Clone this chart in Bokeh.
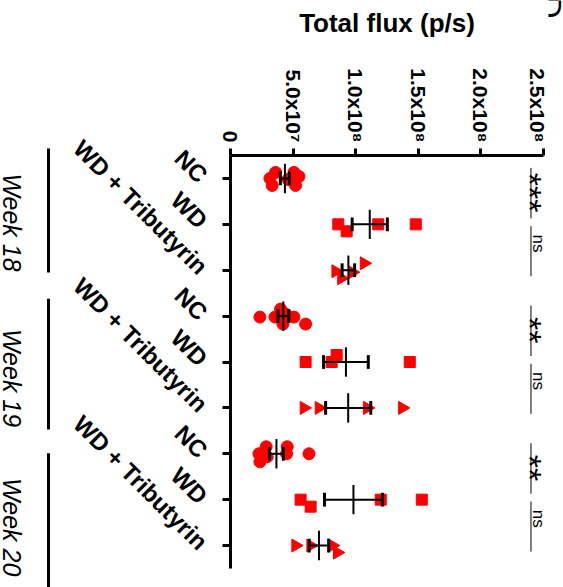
import math
import numpy as np
from bokeh.plotting import figure
from bokeh.layouts import row
from bokeh.models import Range1d, FixedTicker, ColumnDataSource
from bokeh.core.properties import value
from bokeh.embed import file_html
from bokeh.resources import INLINE

# ---------------- data ----------------
categories = ["NC", "WD", "WD + Tributyrin"]
weeks = ["Week 18", "Week 19", "Week 20"]
x_ticks = [0, 50_000_000, 100_000_000, 150_000_000, 200_000_000, 250_000_000]
x_tick_labels = ["0", "5.0x10\u2077", "1.0x10\u2078", "1.5x10\u2078", "2.0x10\u2078", "2.5x10\u2078"]
axis_title = "Total flux (p/s)"
panel_letter = "D"

# total flux values (p/s)
w18_nc = [3.6e7, 5.07e7, 3.15e7, 5.47e7, 3.33e7, 5.2e7, 4.6e7]
w18_wd = [8.61e7, 9.28e7, 1.18e8, 1.48e8]
w18_wdt = [8.4e7, 8.86e7, 9.73e7, 1.067e8]
w19_nc = [2.35e7, 3.55e7, 4.0e7, 4.4e7, 5.07e7, 4.19e7, 6.0e7]
w19_wd = [6.0e7, 8.08e7, 8.48e7, 1.432e8]
w19_wdt = [5.87e7, 7.07e7, 1.093e8, 1.373e8]
w20_nc = [2.27e7, 2.85e7, 4.53e7, 4.48e7, 2.35e7, 2.93e7, 6.27e7]
w20_wd = [5.6e7, 6.4e7, 1.2e8, 1.528e8]
w20_wdt = [5.2e7, 6.4e7, 8.13e7, 8.53e7]

# significance (NC vs WD, WD vs WD + Tributyrin) for each week
sig_nc_wd = ["***", "**", "**"]
sig_wd_wdt = ["ns", "ns", "ns"]

# vertical scatter offsets of the points (pixels), as seen in the picture
w18_nc_off = [-6, -6, 0, -2, 7, 7, 1]
w18_wd_off = [0, 7, 0, 0]
w18_wdt_off = [1, 8, 2, -7]
w19_nc_off = [1, 1, -7, -2, 1, 8, 8]
w19_wd_off = [0, 0, -7, 0]
w19_wdt_off = [0, 0, 0, 0]
w20_nc_off = [0, -7, -7, 0, 8, 3, 0]
w20_wd_off = [0, 7, 0, 0]
w20_wdt_off = [0, 0, 0, 7]

groups = [
    [(w18_nc, w18_nc_off), (w18_wd, w18_wd_off), (w18_wdt, w18_wdt_off)],
    [(w19_nc, w19_nc_off), (w19_wd, w19_wd_off), (w19_wdt, w19_wdt_off)],
    [(w20_nc, w20_nc_off), (w20_wd, w20_wd_off), (w20_wdt, w20_wdt_off)],
]

# ---------------- layout constants ----------------
FONT = "Liberation Sans"
H = 587
LEFT_W = 52          # strip holding the week brackets
MAIN_W = 496         # main chart
RIGHT_W = 15         # panel letter strip
TOP, BOTTOM = 155, 19
CAT_PX = (H - TOP - BOTTOM) / 9.0  # pixels per category

def common(fig):
    fig.outline_line_color = None
    fig.grid.visible = False
    fig.background_fill_color = "white"
    fig.border_fill_color = "white"

# ---------------- main chart ----------------
p = figure(width=MAIN_W, height=H, x_range=Range1d(0, 2.5e8), y_range=Range1d(9.5, 0.5),
           x_axis_location="above", output_backend="svg", toolbar_location=None,
           min_border_left=230 - LEFT_W, min_border_right=5,
           min_border_top=TOP, min_border_bottom=BOTTOM)
common(p)

xa = p.xaxis[0]
xa.ticker = FixedTicker(ticks=x_ticks)
xa.major_label_overrides = dict(zip(x_ticks, x_tick_labels))
xa.major_label_orientation = -math.pi / 2
xa.major_label_text_font = FONT
xa.major_label_text_font_style = "bold"
xa.major_label_text_font_size = "21px"
xa.major_label_text_color = "black"
xa.major_label_standoff = 6
xa.axis_line_width = 3
xa.axis_line_color = "black"
xa.major_tick_line_width = 3
xa.major_tick_line_color = "black"
xa.major_tick_out = 7
xa.major_tick_in = 0
xa.minor_tick_line_color = None
xa.axis_label = axis_title
xa.axis_label_text_font = FONT
xa.axis_label_text_font_style = "bold"
xa.axis_label_text_font_size = "26px"
xa.axis_label_text_color = "black"
xa.axis_label_standoff = 27

ya = p.yaxis[0]
y_ticks = list(range(1, 10))
ya.ticker = FixedTicker(ticks=y_ticks)
ya.major_label_overrides = {t: categories[(t - 1) % 3] for t in y_ticks}
ya.major_label_orientation = -math.pi / 4
ya.major_label_text_font = FONT
ya.major_label_text_font_style = "bold"
ya.major_label_text_font_size = "24px"
ya.major_label_text_color = "black"
ya.major_label_standoff = 19
ya.axis_line_width = 3
ya.axis_line_color = "black"
ya.major_tick_line_width = 3
ya.major_tick_line_color = "black"
ya.major_tick_out = 8
ya.major_tick_in = 0
ya.minor_tick_line_color = None

markers = ["circle", "square", "triangle"]
sizes = [12, 11, 13]
angles = [0, 0, -math.pi / 2]

mean_seg = dict(x0=[], y0=[], x1=[], y1=[])
sem_seg = dict(x0=[], y0=[], x1=[], y1=[])
cap_seg = dict(x0=[], y0=[], x1=[], y1=[])

for wi, wk in enumerate(groups):
    for ci, (vals, offs) in enumerate(wk):
        c = wi * 3 + ci + 1
        ys = [c + o / CAT_PX for o in offs]
        p.scatter(vals, ys, marker=markers[ci], size=sizes[ci], angle=angles[ci],
                  fill_color="#ff0000", line_color="#ff0000")
        arr = np.array(vals)
        m = arr.mean()
        s = arr.std(ddof=1) / math.sqrt(len(arr))
        mean_seg["x0"].append(m); mean_seg["x1"].append(m)
        mean_seg["y0"].append(c - 0.32); mean_seg["y1"].append(c + 0.32)
        sem_seg["x0"].append(m - s); sem_seg["x1"].append(m + s)
        sem_seg["y0"].append(c); sem_seg["y1"].append(c)
        for e in (m - s, m + s):
            cap_seg["x0"].append(e); cap_seg["x1"].append(e)
            cap_seg["y0"].append(c - 0.15); cap_seg["y1"].append(c + 0.15)

p.segment("x0", "y0", "x1", "y1", source=ColumnDataSource(sem_seg), line_color="black", line_width=2)
p.segment("x0", "y0", "x1", "y1", source=ColumnDataSource(mean_seg), line_color="black", line_width=2)
p.segment("x0", "y0", "x1", "y1", source=ColumnDataSource(cap_seg), line_color="black", line_width=3)

# significance brackets
sig_x_line = 2.4e8
br = dict(x0=[], y0=[], x1=[], y1=[])
star_src = dict(x=[], y=[], t=[])
ns_src = dict(x=[], y=[], t=[])
for wi in range(3):
    c = wi * 3 + 1
    br["x0"] += [sig_x_line, sig_x_line]; br["x1"] += [sig_x_line, sig_x_line]
    br["y0"] += [c - 0.23, c + 1.04]; br["y1"] += [c + 0.87, c + 2.13]
    star_src["x"].append(2.39e8); star_src["y"].append(c + 0.31); star_src["t"].append(sig_nc_wd[wi])
    ns_src["x"].append(2.46e8); ns_src["y"].append(c + 1.22); ns_src["t"].append(sig_wd_wdt[wi])
p.segment("x0", "y0", "x1", "y1", source=ColumnDataSource(br), line_color="black", line_width=1)
p.text(x="x", y="y", text="t", source=ColumnDataSource(star_src), angle=-math.pi / 2,
       text_align="center", text_baseline="middle", text_font=value(FONT),
       text_font_size="34px", text_color="black")
p.text(x="x", y="y", text="t", source=ColumnDataSource(ns_src), angle=-math.pi / 2,
       text_align="left", text_baseline="alphabetic", text_font=value(FONT),
       text_font_size="17px", text_color="black")

# ---------------- side strips ----------------
pl = figure(width=LEFT_W, height=H, x_axis_location=None, y_axis_location=None,
            output_backend="svg", toolbar_location=None, min_border=0)
pr = figure(width=RIGHT_W, height=H, x_axis_location=None, y_axis_location=None,
            output_backend="svg", toolbar_location=None, min_border=0)
common(pl)
common(pr)

aligned = True
try:
    for f in (pl, p, pr):
        f.frame_align = False
    aligned = False
except AttributeError:
    aligned = True

if aligned:
    pl.y_range = Range1d(9.5, 0.5)
    pr.y_range = Range1d(9.5, 0.5)
else:
    pl.y_range = Range1d(9.5 + BOTTOM / CAT_PX, 0.5 - TOP / CAT_PX)
    pr.y_range = Range1d(9.5 + BOTTOM / CAT_PX, 0.5 - TOP / CAT_PX)
pl.x_range = Range1d(0, LEFT_W)
pr.x_range = Range1d(0, RIGHT_W)

week_spans = [(0.35, 3.05), (3.62, 6.47), (6.99, 10.2)]
week_label_y = [1.96, 5.35, 8.6]
pl.segment(x0=[48] * 3, x1=[48] * 3, y0=[s[0] for s in week_spans], y1=[s[1] for s in week_spans],
           line_color="black", line_width=3)
pl.text(x=[11] * 3, y=week_label_y, text=weeks, angle=-math.pi / 2,
        text_align="center", text_baseline="alphabetic", text_font=value(FONT),
        text_font_style="italic", text_font_size="25px", text_color="black")

# panel letter, mostly outside the picture at the top right
pr.text(x=[1], y=[0.5 + (-5 - TOP) / CAT_PX], text=[panel_letter], angle=-math.pi / 2,
        text_align="left", text_baseline="alphabetic", text_font=value(FONT),
        text_font_size="32px", text_color="black")

layout = row(pl, p, pr, spacing=0)
open("out.html", "w").write(file_html(layout, INLINE))
